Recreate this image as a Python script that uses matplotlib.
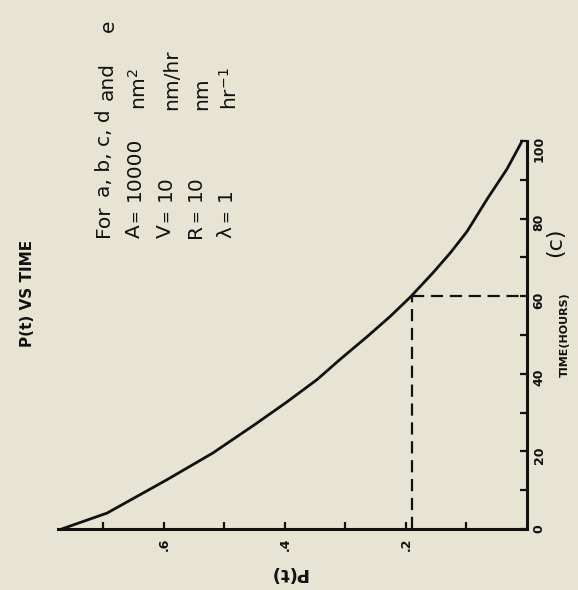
import numpy as np
import matplotlib.pyplot as plt

plt.rcParams['font.family'] = ['DejaVu Sans']
plt.rcParams['mathtext.default'] = 'regular'

# curve (the page is turned 90 degrees)
time_hr = [0, 4.1, 12.7, 19.6, 26.9, 32.6, 38.5, 43.7, 49.6, 54.8, 59.9,
           66.1, 71.3, 76.7, 85.0, 92.8, 100]
p_t = [0.769, 0.694, 0.595, 0.519, 0.450, 0.398, 0.347, 0.309, 0.264, 0.226, 0.192,
       0.155, 0.126, 0.099, 0.066, 0.033, 0.008]

# dashed marker at t = 60 h
mark_t = 60
mark_p = 0.19

p_ticks = [0.1, 0.2, 0.3, 0.4, 0.5, 0.6, 0.7]
p_labels = ['', '.2', '', '.4', '', '.6', '']
t_ticks = [0, 10, 20, 30, 40, 50, 60, 70, 80, 90, 100]
t_labels = ['0', '', '20', '', '40', '', '60', '', '80', '', '100']

param_names = ['A', 'V', 'R', '\u03bb']
param_values = ['10000', '10', '10', '1']
param_units = ['nm$^2$', 'nm/hr', 'nm', 'hr$^{-1}$']

W, H = 578, 590
bg = '#e8e4d4'
ink = '#111111'


def fx(px):
    return px / W


def fy(py):
    return 1 - py / H


fig = plt.figure(figsize=(W / 100, H / 100), dpi=100, facecolor=bg)
ax = fig.add_axes([fx(58), fy(529), fx(527) - fx(58), fy(141) - fy(529)])
ax.set_facecolor(bg)

ax.plot(p_t, time_hr, color=ink, lw=2.0, clip_on=False,
        solid_capstyle='round', solid_joinstyle='round')
ax.plot([mark_p, mark_p], [0, mark_t], color=ink, lw=1.6, ls=(0, (5.5, 3)))
ax.plot([mark_p, 0], [mark_t, mark_t], color=ink, lw=1.6, ls=(0, (5.5, 3)))

ax.set_xlim(0.775, 0)
ax.set_ylim(0, 100)

for s in ['top', 'left']:
    ax.spines[s].set_visible(False)
for s in ['bottom', 'right']:
    ax.spines[s].set_linewidth(2.2)
    ax.spines[s].set_color(ink)

ax.yaxis.tick_right()
ax.set_xticks(p_ticks)
ax.set_xticklabels(p_labels)
ax.set_yticks(t_ticks)
ax.set_yticklabels(t_labels)
ax.tick_params(direction='in', length=5, width=1.6, color=ink,
               labelsize=9, labelcolor=ink, labelrotation=90)
ax.tick_params(axis='x', pad=6)
ax.tick_params(axis='y', pad=4)
for lab in ax.get_xticklabels() + ax.get_yticklabels():
    lab.set_fontweight('bold')

# titles / axis labels, turned like the scan
fig.text(fx(27), fy(293), 'P(t) VS TIME', rotation=90, ha='center', va='center',
         fontsize=11, fontweight='bold', color=ink)
fig.text(fx(565), fy(335), 'TIME(HOURS)', rotation=90, ha='center', va='center',
         fontsize=8, fontweight='bold', color=ink)
fig.text(fx(288), fy(573), 'P(t)', rotation=180, ha='center', va='center',
         fontsize=13, fontweight='bold', color=ink)
fig.text(fx(555), fy(242), '(c)', rotation=90, ha='center', va='center',
         fontsize=16, color=ink)

# parameter block
fs = 14.5
kw = dict(rotation=90, rotation_mode='anchor', ha='left', va='baseline',
          fontsize=fs, color=ink)
fig.text(fx(109), fy(237), 'For', **kw)
fig.text(fx(110), fy(197), 'a, b, c, d', **kw)
fig.text(fx(113), fy(100), 'and', **kw)
fig.text(fx(114), fy(32), 'e', **kw)

left_x = [140, 171, 201, 231]
unit_x = [146, 177, 207, 237]
for lx, ux, name, val, unit in zip(left_x, unit_x, param_names, param_values, param_units):
    fig.text(fx(lx), fy(238), name, **kw)
    fig.text(fx(lx - 1), fy(222), '=', rotation=90, rotation_mode='anchor', ha='left',
             va='baseline', fontsize=11, color=ink)
    fig.text(fx(lx), fy(201), val, **kw)
    fig.text(fx(ux), fy(110), unit, **kw)

fig.savefig('out.png', dpi=100, facecolor=bg)
